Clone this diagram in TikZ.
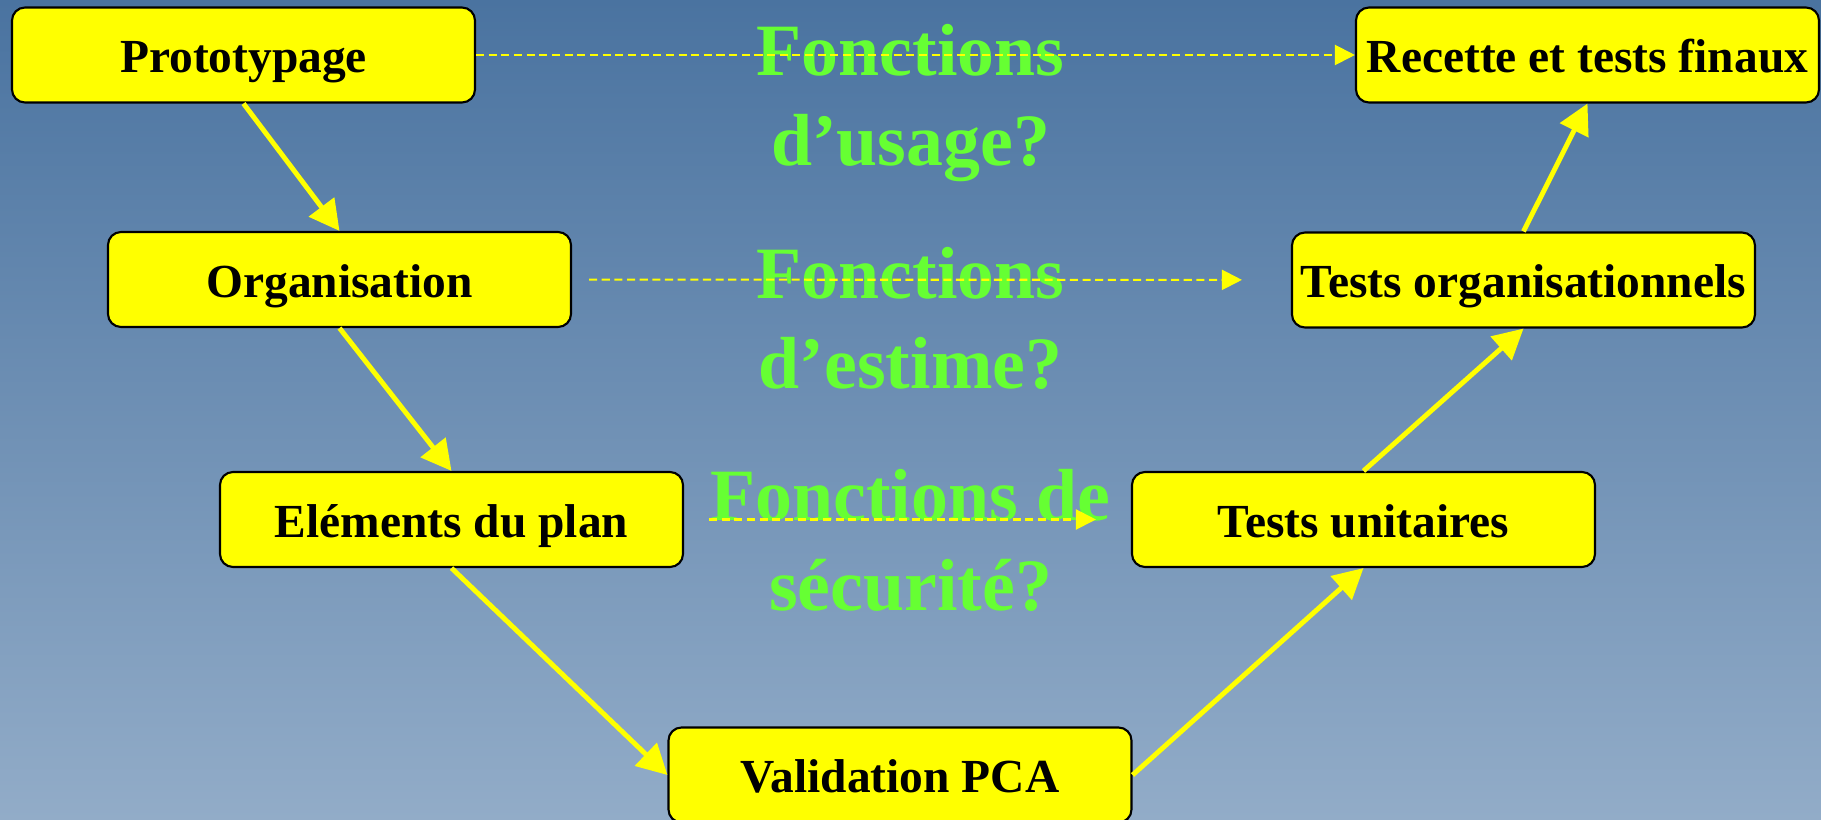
\documentclass[tikz,border=0pt]{standalone}
\usepackage{fontspec}
\setmainfont{Liberation Serif}
\usetikzlibrary{arrows.meta}
\definecolor{fondhaut}{RGB}{74,115,160}
\definecolor{fondbas}{RGB}{146,172,200}
\definecolor{vertq}{RGB}{102,255,51}
\definecolor{jaune}{RGB}{255,255,0}
\begin{document}
\begin{tikzpicture}[
    etape/.style={draw=black, line width=.6pt, fill=jaune, rounded corners=1.3mm,
      minimum width=4.63cm, minimum height=.95cm, inner sep=0pt,
      text height=10.2pt, text depth=0pt,
      font=\fontsize{13.5pt}{16pt}\selectfont\bfseries},
    question/.style={text=vertq, align=center,
      font=\fontsize{21pt}{25.6pt}\selectfont\bfseries},
    fleche/.style={jaune, line width=1.4pt, -{Triangle[length=3mm,width=3.1mm]}},
    lien/.style={jaune, line width=.6pt, dash pattern=on 2.3pt off 1.3pt,
      -{Triangle[length=2mm,width=2mm]}}
  ]
    \shade[top color=fondhaut, bottom color=fondbas] (0,0) rectangle (18.21,-8.2);
    \useasboundingbox (0,0) rectangle (18.21,-8.2);

    % branche descendante
    \node (proto) [etape] at (2.435,-.55) {Prototypage};
    \node (orga) [etape] at (3.395,-2.795) {Organisation};
    \node (elem) [etape] at (4.515,-5.195) {Eléments du plan};
    \node (valid) [etape] at (9.0,-7.75) {Validation PCA};
    % branche montante
    \node (unit) [etape] at (13.635,-5.195) {Tests unitaires};
    \node (torga) [etape] at (15.235,-2.80) {Tests organisationnels};
    \node (recette) [etape] at (15.875,-.55) {Recette et tests finaux};

    \node (qusage) [question] at (9.105,-1.03) {Fonctions\\d’usage?};
    \node (qestime) [question] at (9.105,-3.18) {Fonctions\\d’estime?};
    \node (qsecu) [question] at (9.105,-5.40) {Fonctions de\\sécurité?};

    \draw[fleche] (proto.south) -- (orga.north);
    \draw[fleche] (orga.south) -- (elem.north);
    \draw[fleche] (elem.south) -- (valid.west);
    \draw[fleche] (valid.east) -- (unit.south);
    \draw[fleche] (unit.north) -- (torga.south);
    \draw[fleche] (torga.north) -- (recette.south);

    \draw[lien] (proto) -- (recette);
    \draw[lien, shorten <=.17cm, shorten >=.49cm] (orga) -- (torga);
    \draw[lien, shorten <=.25cm, shorten >=.35cm] (elem) -- (unit);
\end{tikzpicture}
\end{document}
